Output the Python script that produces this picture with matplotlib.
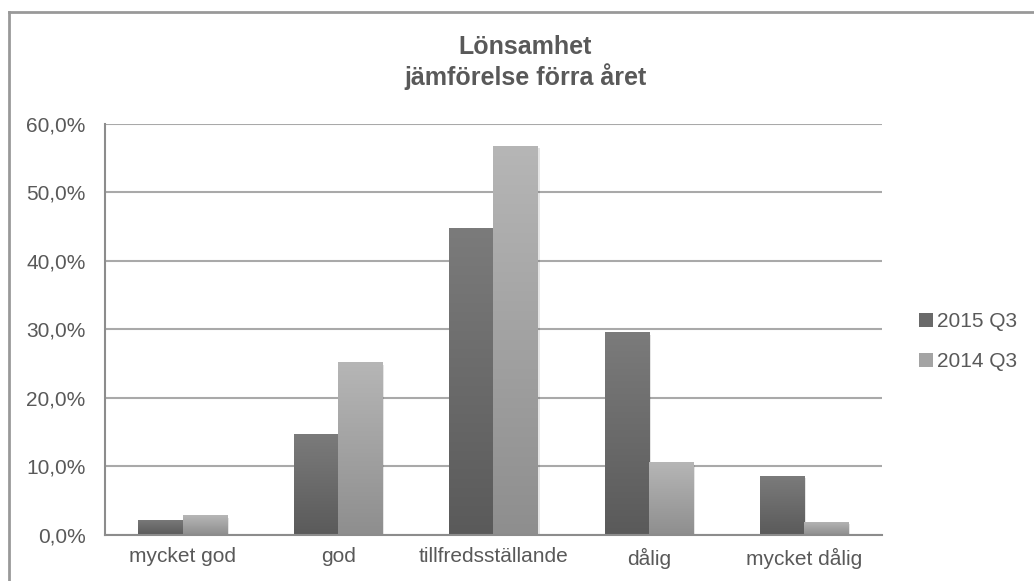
import numpy as np
import matplotlib
matplotlib.use("Agg")
import matplotlib.pyplot as plt
from matplotlib.colors import LinearSegmentedColormap
from matplotlib.lines import Line2D
from matplotlib.patches import Patch

# data
categories = ["mycket god", "god", "tillfredsställande", "dålig", "mycket dålig"]
series_names = ["2015 Q3", "2014 Q3"]
vals_2015 = [2.2, 14.7, 44.8, 29.6, 8.6]
vals_2014 = [2.9, 25.2, 56.8, 10.6, 1.9]
yticks = [0, 10, 20, 30, 40, 50, 60]

plt.rcParams['font.family'] = ['Liberation Sans', 'DejaVu Sans']
txt_col = "#595959"

fig = plt.figure(figsize=(10.34, 5.81), dpi=100)
ax = fig.add_axes([0.1015, 0.0792, 0.7515, 0.7074])

x = np.arange(len(categories))
w = 0.285

# gradient fills (top colour, bottom colour)
grads = [("#7b7b7b", "#5a5a5a"), ("#b6b6b6", "#8e8e8e")]
grad = np.linspace(0, 1, 256).reshape(-1, 1)

for i, vals in enumerate([vals_2015, vals_2014]):
    off = (i - 0.5) * w
    top_c, bot_c = grads[i]
    cmap = LinearSegmentedColormap.from_list("g%d" % i, [bot_c, top_c])
    # soft shadow
    ax.bar(x + off + 0.012, vals, w, bottom=-0.35, color="#000000", alpha=0.10,
           linewidth=0, zorder=2)
    bars = ax.bar(x + off, vals, w, color=bot_c, linewidth=0, zorder=3)
    for b in bars:
        x0 = b.get_x()
        h = b.get_height()
        im = ax.imshow(grad, cmap=cmap, origin="lower", aspect="auto",
                       extent=[x0, x0 + w, 0, h], zorder=4)
        im.set_clip_path(b)

ax.set_xlim(-0.5, len(categories) - 0.5)
ax.set_ylim(0, 60)
ax.set_yticks(yticks)
ax.yaxis.set_major_formatter(plt.FuncFormatter(lambda v, p: ("%.1f%%" % v).replace(".", ",")))
ax.set_xticks(x)
ax.set_xticklabels(categories)
ax.tick_params(axis="both", length=0, labelsize=15, colors=txt_col)
ax.tick_params(axis="y", pad=14)
ax.tick_params(axis="x", pad=9)
ax.grid(axis="y", color="#a9a9a9", linewidth=1.5, zorder=1)
ax.set_axisbelow(True)
for s in ["top", "right"]:
    ax.spines[s].set_visible(False)
for s in ["left", "bottom"]:
    ax.spines[s].set_color("#8c8c8c")
    ax.spines[s].set_linewidth(1.5)
    ax.spines[s].set_zorder(5)

fig.text(0.508, 0.892, "Lönsamhet\njämförelse förra året", ha="center", va="center",
         fontsize=18, fontweight="bold", color=txt_col, linespacing=1.2)

handles = [Patch(facecolor="#6a6a6a", edgecolor="none"),
           Patch(facecolor="#a4a4a4", edgecolor="none")]
leg = fig.legend(handles, series_names, loc="center left", bbox_to_anchor=(0.881, 0.412),
                 frameon=False, fontsize=15, handlelength=0.65, handleheight=0.65,
                 handletextpad=0.2, labelspacing=1.0, borderaxespad=0)
for t in leg.get_texts():
    t.set_color(txt_col)

# chart frame (only top and left visible in the reference)
fig.add_artist(Line2D([0.0087, 1.0], [0.979, 0.979], transform=fig.transFigure,
                      color="#999999", linewidth=2))
fig.add_artist(Line2D([0.0087, 0.0087], [0.0, 0.979], transform=fig.transFigure,
                      color="#999999", linewidth=2))

fig.savefig("out.png", dpi=100)
